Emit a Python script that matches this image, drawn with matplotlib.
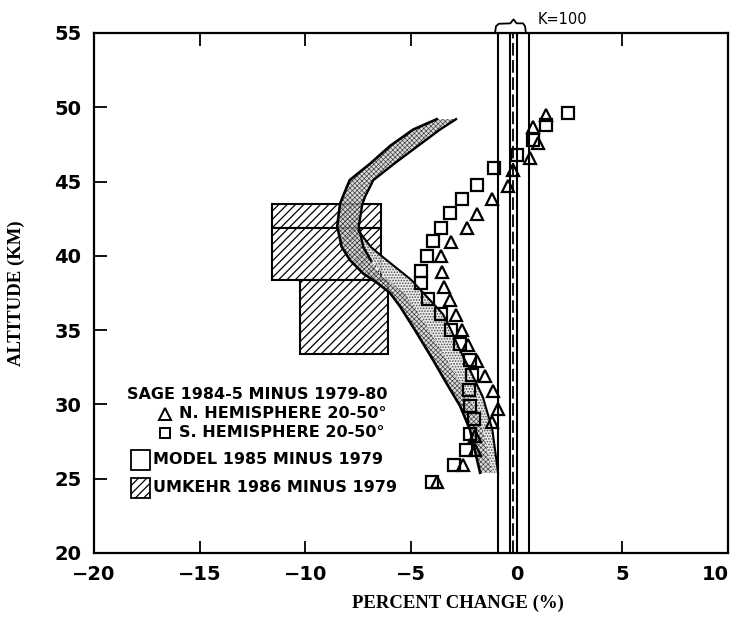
import matplotlib
matplotlib.use("Agg")
import matplotlib.pyplot as plt
from matplotlib.transforms import ScaledTranslation

# ---------------- data ----------------
# SAGE 1984-5 minus 1979-80, N. hemisphere 20-50 deg (triangles)
nh_alt = [49.5, 48.7, 47.6, 46.6, 45.8, 44.7, 43.8, 42.8, 41.9, 40.9, 40.0, 38.9, 37.9,
          37.0, 36.0, 35.0, 34.0, 32.9, 31.9, 30.9, 29.7, 28.8, 27.9, 26.9, 25.9, 24.8]
nh_pct = [1.38, 0.76, 1.03, 0.63, -0.16, -0.42, -1.18, -1.86, -2.36, -3.10, -3.58, -3.52,
          -3.42, -3.15, -2.87, -2.57, -2.31, -1.89, -1.50, -1.10, -0.87, -1.18, -1.97,
          -1.97, -2.55, -3.75]
# S. hemisphere 20-50 deg (squares)
sh_alt = [49.6, 48.8, 47.8, 46.8, 45.9, 44.8, 43.8, 42.9, 41.9, 41.0, 40.0, 39.0, 38.2,
          37.1, 36.1, 35.0, 34.1, 33.0, 32.0, 31.0, 29.9, 29.0, 28.0, 26.9, 25.9, 24.8]
sh_pct = [2.45, 1.38, 0.79, 0.00, -1.07, -1.86, -2.57, -3.15, -3.59, -3.94, -4.26, -4.54,
          -4.54, -4.18, -3.59, -3.12, -2.68, -2.21, -2.13, -2.24, -2.21, -2.02, -2.21,
          -2.39, -2.96, -4.02]

# Model 1985 minus 1979, band A (dense stipple)
band_a_alt = [49.2, 48.5, 47.4, 46.2, 45.1, 44.0, 43.5, 42.0, 40.6, 39.7, 38.8, 38.2,
              37.5, 36.6, 35.0, 33.0, 31.4, 29.9, 28.3, 25.4]
band_a_left = [-3.78, -4.90, -5.99, -6.94, -7.90, -8.22, -8.36, -8.49, -8.28, -7.88, -7.25,
               -6.62, -5.99, -5.52, -4.81, -3.96, -3.31, -2.68, -2.21, -1.73]
band_a_right = [-2.87, -3.63, -4.67, -5.80, -6.78, -7.17, -7.30, -7.47, -7.26, -6.90, -6.50,
                -5.95, -5.35, -4.85, -4.15, -3.30, -2.65, -2.05, -1.60, -1.15]
# band B (light stipple)
band_b_alt = [41.7, 40.6, 40.0, 38.4, 36.1, 35.0, 33.7, 32.3, 30.5, 28.3, 25.4]
band_b_left = [-7.49, -7.26, -7.00, -6.20, -4.60, -4.15, -3.60, -3.00, -2.30, -1.60, -1.15]
band_b_right = [-7.49, -6.90, -6.40, -5.00, -3.50, -3.10, -2.70, -2.20, -1.60, -1.15, -0.88]

# Umkehr 1986 minus 1979 layers
umk_bottom = [41.9, 38.4, 33.4]
umk_top = [43.5, 41.9, 38.4]
umk_left = [-11.6, -11.6, -10.25]
umk_right = [-6.4, -6.4, -6.1]

# K=100 model lines
k_solid = [-0.88, -0.33, 0.02, 0.57]
k_dashed = [-0.17]

xticks = [-20, -15, -10, -5, 0, 5, 10]
yticks = [20, 25, 30, 35, 40, 45, 50, 55]

# ---------------- figure ----------------
plt.rcParams['hatch.linewidth'] = 0.9
fig = plt.figure(figsize=(7.39, 6.29), dpi=100)
ax = fig.add_axes([94 / 739, 1 - 553 / 629, (728 - 94) / 739, (553 - 33) / 629])
ax.set_xlim(-20, 10)
ax.set_ylim(20, 55)

# Umkehr boxes
for b, t, l, r in zip(umk_bottom, umk_top, umk_left, umk_right):
    ax.barh(b, r - l, left=l, height=t - b, align='edge', facecolor='white',
            edgecolor='black', hatch='////', linewidth=1.5, zorder=2)

# model bands
fb = ax.fill_betweenx(band_b_alt, band_b_left, band_b_right, facecolor='#ececec',
                      edgecolor='#333333', hatch='......', linewidth=0, zorder=3, alpha=0.85)
fa = ax.fill_betweenx(band_a_alt, band_a_left, band_a_right, facecolor='#d0d0d0',
                      edgecolor='black', hatch='xxxxxxx', linewidth=0, zorder=3, alpha=0.75)
for art, lw in ((fa, 0.45), (fb, 0.8)):
    if hasattr(art, 'set_hatch_linewidth'):
        art.set_hatch_linewidth(lw)
ax.plot(band_a_left, band_a_alt, color='black', lw=1.9, zorder=4)
ax.plot(band_a_right[:10], band_a_alt[:10], color='black', lw=1.7, zorder=4)
ax.plot(band_b_right, band_b_alt, color='black', lw=1.5, zorder=4)

# K=100 lines
for xv in k_solid:
    ax.axvline(xv, color='black', lw=1.5, zorder=4)
for xv in k_dashed:
    ax.axvline(xv, color='black', lw=1.3, ls=(0, (7, 2.5)), zorder=4)

# SAGE points
ax.plot(nh_pct, nh_alt, ls='none', marker='^', ms=9, mfc='none', mec='black', mew=1.6, zorder=5)
ax.plot(sh_pct, sh_alt, ls='none', marker='s', ms=8, mfc='none', mec='black', mew=1.6, zorder=5)

# bracket and K=100 label
bx = [-1.02, -0.98, -0.85, -0.30, -0.15, 0.00, 0.30, 0.40, 0.43]
by = [55.05, 55.45, 55.62, 55.65, 55.92, 55.65, 55.65, 55.45, 55.05]
ax.plot(bx, by, color='black', lw=1.3, clip_on=False)
ax.text(1.0, 55.9, 'K=100', fontsize=10.5, ha='left', va='center', clip_on=False)

# legend drawn inside the axes
lfont = dict(family='DejaVu Sans', fontweight='bold', fontsize=11.5)
ax.text(-18.44, 30.64, 'SAGE 1984-5 MINUS 1979-80', ha='left', va='center', **lfont)
ax.plot([-16.64], [29.36], marker='^', ms=8, mfc='none', mec='black', mew=1.4)
ax.text(-16.0, 29.36, 'N. HEMISPHERE 20-50°', ha='left', va='center', **lfont)
ax.plot([-16.64], [28.08], marker='s', ms=7.5, mfc='none', mec='black', mew=1.4)
ax.text(-16.0, 28.08, 'S. HEMISPHERE 20-50°', ha='left', va='center', **lfont)
ax.barh(25.59, 0.9, left=-18.25, height=1.35, align='edge', facecolor='white',
        edgecolor='black', linewidth=1.3)
ax.text(-17.2, 26.27, 'MODEL 1985 MINUS 1979', ha='left', va='center', **lfont)
ax.barh(23.71, 0.9, left=-18.25, height=1.35, align='edge', facecolor='white',
        edgecolor='black', hatch='////', linewidth=1.3)
ax.text(-17.2, 24.38, 'UMKEHR 1986 MINUS 1979', ha='left', va='center', **lfont)

# axes styling
for s in ax.spines.values():
    s.set_linewidth(1.6)
ax.set_xticks(xticks)
ax.set_yticks(yticks)
ax.set_xticklabels([f'{v}'.replace('-', '\u2212') for v in xticks])
ax.tick_params(axis='both', direction='in', length=9, width=1.3, labelsize=14)
ax.tick_params(axis='x', top=True, pad=9)
ax.tick_params(axis='y', right=False, pad=9)
for lab in ax.get_xticklabels() + ax.get_yticklabels():
    lab.set_fontweight('bold')
last = ax.get_xticklabels()[-1]
last.set_transform(last.get_transform() + ScaledTranslation(-9 / 72, 0, fig.dpi_scale_trans))

ax.set_ylabel('ALTITUDE (KM)', family='Liberation Serif', fontweight='bold', fontsize=13.5)
ax.yaxis.set_label_coords(-0.109, 0.5)
fig.text(458 / 739, 1 - 603 / 629, 'PERCENT CHANGE (%)', family='Liberation Serif',
         fontweight='bold', fontsize=13.5, ha='center', va='center')

fig.savefig('out.png', dpi=100)
